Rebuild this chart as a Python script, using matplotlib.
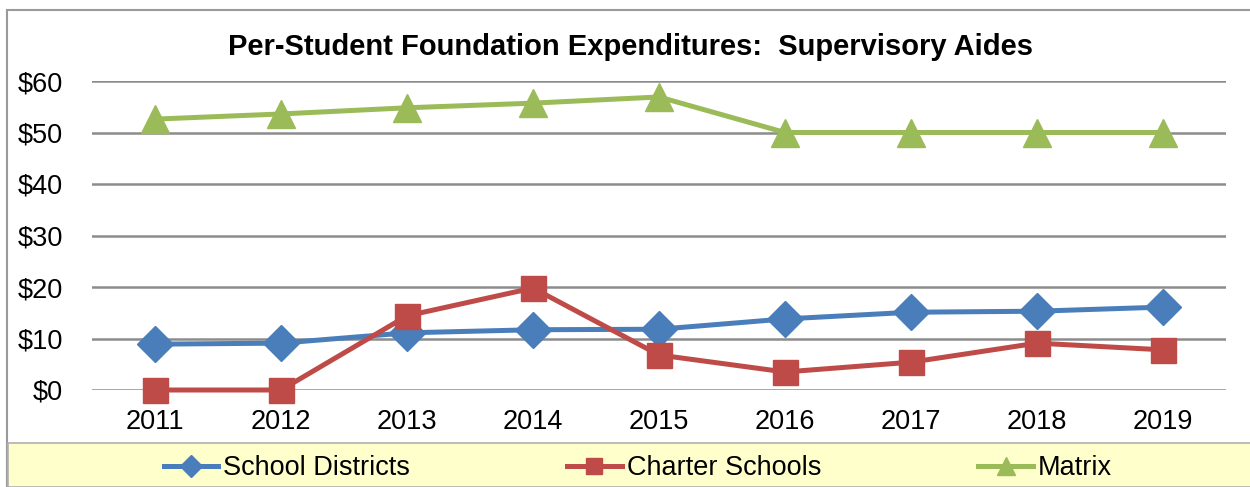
import matplotlib
matplotlib.use("Agg")
import matplotlib.pyplot as plt
from matplotlib.patches import Rectangle
from matplotlib.ticker import FuncFormatter

years = ["2011", "2012", "2013", "2014", "2015", "2016", "2017", "2018", "2019"]
school_districts = [8.9, 9.1, 11.1, 11.7, 11.8, 13.8, 15.1, 15.3, 16.1]
charter_schools = [0.0, 0.0, 14.4, 19.8, 6.8, 3.5, 5.4, 9.1, 7.8]
matrix = [52.6, 53.6, 54.8, 55.7, 56.9, 50.0, 50.0, 50.0, 50.0]

plt.rcParams["font.family"] = ["Liberation Sans", "DejaVu Sans"]

W, H = 1250, 487
fig = plt.figure(figsize=(W / 100, H / 100), dpi=100)

# outer border and yellow legend band, in figure coords
fig.patches.append(Rectangle((7 / W, -0.01), 1.0, (H - 10) / H + 0.01,
                             transform=fig.transFigure, fill=False,
                             edgecolor="#9a9a9a", linewidth=1.5))
fig.patches.append(Rectangle((8 / W, 0), 1.0, (H - 443) / H,
                             transform=fig.transFigure, facecolor="#ffffcc",
                             edgecolor="#b0b0b0", linewidth=1.2))

ax = fig.add_axes([92 / W, (H - 390) / H, (1226 - 92) / W, (390 - 81) / H])
x = range(len(years))

ax.plot(x, school_districts, color="#4a7ebb", lw=3.6, marker="D", ms=18,
        label="School Districts", zorder=3, clip_on=False)
ax.plot(x, charter_schools, color="#be4b48", lw=3.6, marker="s", ms=18,
        label="Charter Schools", zorder=4, clip_on=False)
ax.plot(x, matrix, color="#9bbb59", lw=3.6, marker="^", ms=20,
        label="Matrix", zorder=3, clip_on=False)

ax.set_xlim(-0.5, len(years) - 0.5)
ax.set_ylim(0, 60)
ax.set_yticks(range(0, 61, 10))
ax.yaxis.set_major_formatter(FuncFormatter(lambda v, p: f"${v:.0f}"))
ax.set_xticks(list(x))
ax.set_xticklabels(years)
ax.tick_params(length=0, labelsize=19.5)
ax.tick_params(axis="x", pad=14)
ax.tick_params(axis="y", pad=21)
ax.grid(axis="y", color="#8c8c8c", lw=1.8)
ax.set_axisbelow(True)
for s in ax.spines.values():
    s.set_visible(False)

fig.text(631 / W, (H - 47) / H,
         "Per-Student Foundation Expenditures:  Supervisory Aides",
         ha="center", va="center", fontsize=21, fontweight="bold")

fig.legend(loc="center", bbox_to_anchor=(638 / W, (H - 468) / H), ncol=3,
           frameon=False, fontsize=19.5, handlelength=2.0, handletextpad=0.2,
           columnspacing=5.8, markerscale=0.65)

fig.savefig("out.png", dpi=100)
